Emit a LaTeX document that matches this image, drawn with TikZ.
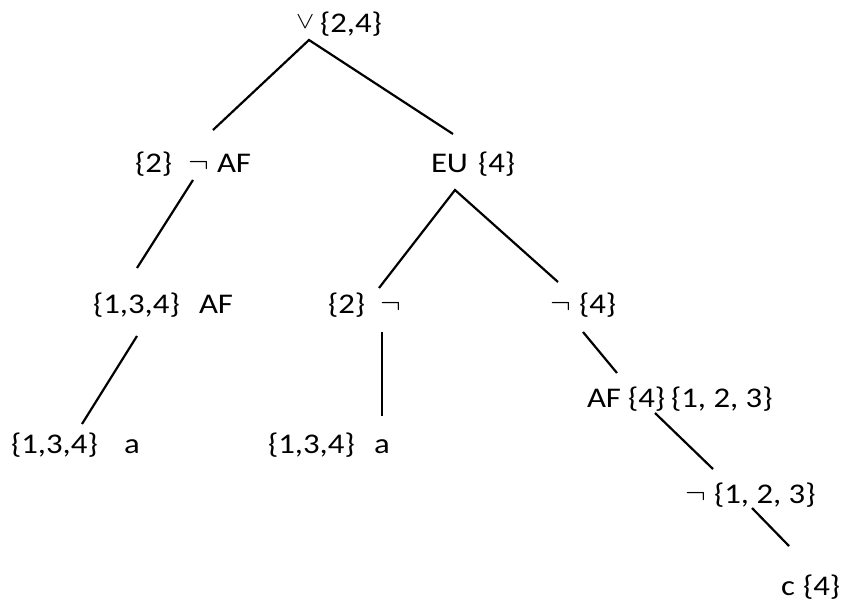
\documentclass[tikz,border=0pt]{standalone}
\usepackage{fontspec}
\setmainfont{Carlito}
\begin{document}
\begin{tikzpicture}[x=1pt,y=-1pt,
  lbl/.style={anchor=base west,inner sep=0pt,outer sep=0pt,
    font=\fontsize{28.5}{32}\selectfont},
  edge/.style={line width=2.2pt}]
\useasboundingbox (0,0) rectangle (841,606);
% labels are set slightly wide
\newcommand{\wt}[1]{\scalebox{1.15}[1]{#1}}
\newcommand{\negsym}{\scalebox{1.25}[1.25]{$\neg$}}
\newcommand{\orsym}{\raisebox{3.5pt}{\scalebox{1.1}[0.95]{$\vee$}}}

% root
\node[lbl] (r-op)  at (296,32) {\orsym};
\node[lbl] (r-set) at (320,32) {\wt{\{2,4\}}};

% second level
\node[lbl] (a-set) at (135,172) {\wt{\{2\}}};
\node[lbl] (a-neg) at (188,172) {\negsym};
\node[lbl] (a-op)  at (217,172) {\wt{AF}};
\node[lbl] (b-op)  at (431,172) {\wt{EU}};
\node[lbl] (b-set) at (478,172) {\wt{\{4\}}};

% third level
\node[lbl] (c-set) at (93,313)  {\wt{\{1,3,4\}}};
\node[lbl] (c-op)  at (199,313) {\wt{AF}};
\node[lbl] (d-set) at (328,313) {\wt{\{2\}}};
\node[lbl] (d-neg) at (380,313) {\negsym};
\node[lbl] (e-neg) at (550,313) {\negsym};
\node[lbl] (e-set) at (579,313) {\wt{\{4\}}};

% leaves under the left subtrees
\node[lbl] (f-set) at (11,453)  {\wt{\{1,3,4\}}};
\node[lbl] (f-op)  at (124,453) {\wt{a}};
\node[lbl] (g-set) at (268,453) {\wt{\{1,3,4\}}};
\node[lbl] (g-op)  at (374,453) {\wt{a}};

% right branch
\node[lbl] (h-op)   at (587,407) {\wt{AF}};
\node[lbl] (h-set)  at (628,407) {\wt{\{4\}}};
\node[lbl] (h-set2) at (671,407) {\wt{\{1, 2, 3\}}};
\node[lbl] (i-neg)  at (685,503) {\negsym};
\node[lbl] (i-set)  at (714,503) {\wt{\{1, 2, 3\}}};
\node[lbl] (j-op)   at (781,595) {\wt{c}};
\node[lbl] (j-set)  at (803,595) {\wt{\{4\}}};

% connector ends
\coordinate (r-s)   at (309,40);
\coordinate (a-n)   at (213,130);
\coordinate (b-n)   at (453,134);
\coordinate (a-s)   at (193,180);
\coordinate (c-n)   at (137,268);
\coordinate (c-s)   at (137,336);
\coordinate (f-n)   at (82,424);
\coordinate (b-s)   at (455,190);
\coordinate (d-n)   at (379,288);
\coordinate (e-n)   at (558,282);
\coordinate (d-s)   at (382,332);
\coordinate (g-n)   at (382,416);
\coordinate (e-s)   at (583,332);
\coordinate (h-n)   at (617,373);
\coordinate (h-s)   at (655,413);
\coordinate (i-n)   at (713,469);
\coordinate (i-s)   at (752,508);
\coordinate (j-n)   at (789,546);

\draw[edge] (a-n) -- (r-s) -- (b-n);
\draw[edge] (a-s) -- (c-n);
\draw[edge] (c-s) -- (f-n);
\draw[edge] (d-n) -- (b-s) -- (e-n);
\draw[edge] (d-s) -- (g-n);
\draw[edge] (e-s) -- (h-n);
\draw[edge] (h-s) -- (i-n);
\draw[edge] (i-s) -- (j-n);
\end{tikzpicture}
\end{document}
